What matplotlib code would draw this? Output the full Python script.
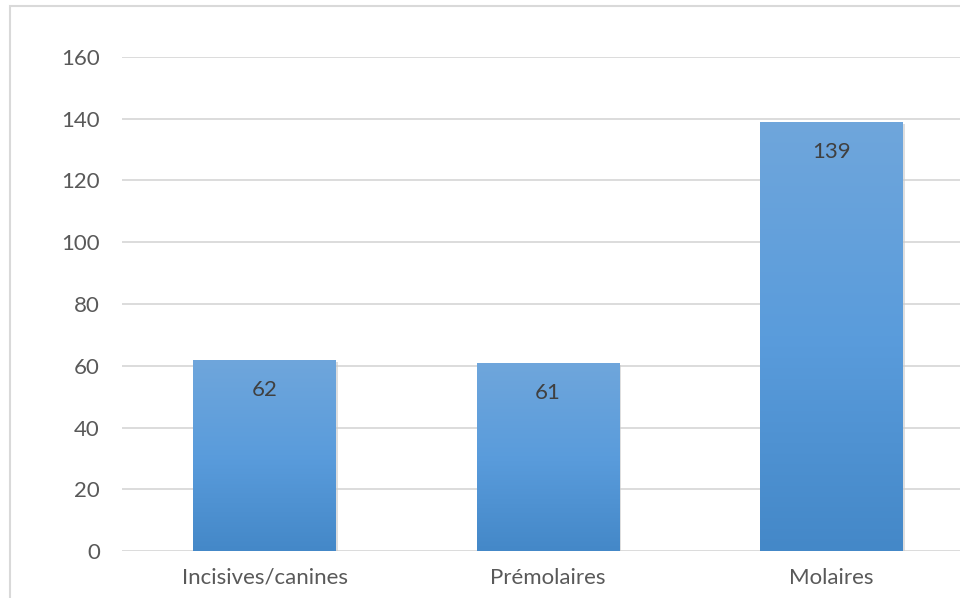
import numpy as np
import matplotlib.pyplot as plt
from matplotlib.colors import LinearSegmentedColormap
from matplotlib.patches import Rectangle

categories = ['Incisives/canines', 'Prémolaires', 'Molaires']
values = [62, 61, 139]
yticks = [0, 20, 40, 60, 80, 100, 120, 140, 160]

plt.rcParams['font.family'] = ['Lato', 'DejaVu Sans']
text_color = '#595959'
grid_color = '#d9d9d9'

fig = plt.figure(figsize=(9.6, 5.98), dpi=100)
W, H = 960, 598

# bordure extérieure du graphique
fig.patches.append(Rectangle((10 / W, -0.1), 1.2, 1 - 6 / H + 0.1,
                             transform=fig.transFigure, fill=False,
                             edgecolor=grid_color, linewidth=1.5))

ax = fig.add_axes([122 / W, 47 / H, 852 / W, 494 / H])
x = np.arange(len(categories))
width = 0.504

ax.set_xlim(-0.503, 2.503)
ax.set_ylim(0, 160)
ax.set_yticks(yticks)
ax.yaxis.grid(True, color=grid_color, linewidth=1.3)
ax.set_axisbelow(True)
for s in ax.spines.values():
    s.set_visible(False)
ax.tick_params(length=0, labelsize=16, colors=text_color)
ax.tick_params(axis='y', pad=16)
ax.tick_params(axis='x', pad=12)
ax.set_xticks(x)
ax.set_xticklabels(categories)

cmap = LinearSegmentedColormap.from_list('bleu', ['#4488c8', '#5a9cdc', '#6fa6db'])
grad = np.linspace(0, 1, 256).reshape(-1, 1)

bars = ax.bar(x, values, width=width, color='none', edgecolor='none', zorder=2)
for b, v in zip(bars, values):
    x0, w = b.get_x(), b.get_width()
    # ombre légère
    ax.add_patch(Rectangle((x0 + 0.006, -0.8), w, v, facecolor='#c8c8c8',
                           alpha=0.6, edgecolor='none', zorder=1.5))
    im = ax.imshow(grad, cmap=cmap, origin='lower', aspect='auto',
                   extent=(x0, x0 + w, 0, v), zorder=2)
    im.set_clip_path(b)
    ax.text(b.get_x() + w / 2, v - 9.8, str(v), ha='center', va='center',
            fontsize=16, color='#404040', zorder=3)

fig.savefig('out.png', dpi=100)
